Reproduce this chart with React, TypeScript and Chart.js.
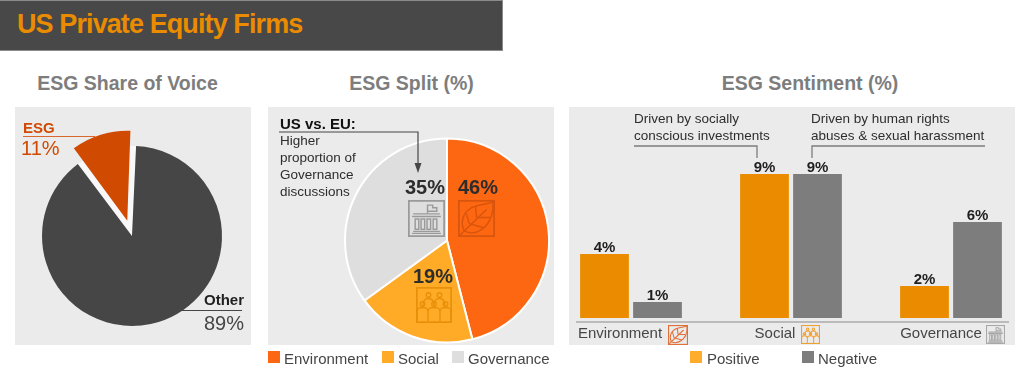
import React, { useEffect, useRef } from "react";
import { Chart, registerables } from "chart.js";

Chart.register(...registerables);

const FONT = '"Liberation Sans", Arial, sans-serif';
const shareLabels = ["ESG", "Other"];
const shareValues = [11, 89];
const splitLabels = ["Environment", "Social", "Governance"];
const splitValues = [46, 19, 35];
const sentimentCategories = ["Environment", "Social", "Governance"];
const positiveValues = [4, 9, 2];
const negativeValues = [1, 9, 6];
const categoryLabelShift = [-11, -16, -10];

const ORANGE_DARK = "#D04A02";
const CHARCOAL = "#464646";
const ENV = "#FE6711";
const SOC = "#FFAB27";
const GOV = "#DEDEDE";
const POS = "#EB8C00";
const NEG = "#7D7D7D";
const PANEL = "#EBEBEB";
const INK = "#2D2D2D";

function Txt(p: { x: number; y: number; size: number; bold?: boolean; color?: string; center?: boolean; spacing?: number; children: any }) {
  return (
    <div
      style={{
        position: "absolute",
        left: p.x,
        top: p.y,
        transform: p.center ? "translate(-50%,-50%)" : "translateY(-50%)",
        fontFamily: FONT,
        fontSize: p.size,
        fontWeight: p.bold ? 700 : 400,
        letterSpacing: p.spacing ?? 0,
        color: p.color || INK,
        lineHeight: 1,
        whiteSpace: "nowrap",
      }}
    >
      {p.children}
    </div>
  );
}

function Box(p: { x: number; y: number; w: number; h: number; c: string }) {
  return <div style={{ position: "absolute", left: p.x, top: p.y, width: p.w, height: p.h, background: p.c }} />;
}

function Icon(p: { kind: "leaf" | "people" | "building"; x: number; y: number; size: number; color: string; sw?: number }) {
  const sw = p.sw ?? 1.4;
  return (
    <svg
      width={p.size}
      height={p.size}
      viewBox="0 0 36 36"
      style={{ position: "absolute", left: p.x, top: p.y }}
      fill="none"
      stroke={p.color}
      strokeWidth={sw}
    >
      <rect x="0.8" y="0.8" width="34.4" height="34.4" strokeWidth={sw * 1.3} />
      {p.kind === "leaf" && (
        <g>
          <path d="M6 30 C1 19 7 9 17 6 C23 4 29 4 34 2 C35 11 32 22 24 28 C18 32 11 33 6 30 Z" />
          <path d="M1 35 L28 9" />
          <path d="M18 17 L17 6 M11 23 L8 13 M18 17 L31 17 M11 23 L25 27" />
        </g>
      )}
      {p.kind === "people" && (
        <g>
          <circle cx="12.5" cy="8" r="2.3" />
          <circle cx="23.5" cy="8" r="2.3" />
          <path d="M7 19 C7 13 9 11.5 12.5 11.5 C16 11.5 18 13 18 19 M18 19 C18 13 20 11.5 23.5 11.5 C27 11.5 29 13 29 19" />
          <circle cx="6.5" cy="17" r="2.3" />
          <circle cx="18" cy="17" r="2.3" />
          <circle cx="29.5" cy="17" r="2.3" />
          <path d="M1 34 L1 25 C1 21 3 20.5 6.5 20.5 C10 20.5 12 21 12 25 L12 34 M12 25 C12 21 14 20.5 18 20.5 C22 20.5 24 21 24 25 L24 34 M24 25 C24 21 26 20.5 29.5 20.5 C33 20.5 35 21 35 25 L35 34" />
        </g>
      )}
      {p.kind === "building" && (
        <g>
          <path d="M19 13 L19 5 L24 5 L24 7.5 L28 7.5 L28 11 L19 11" />
          <path d="M5 13.5 L31 13.5 M4 16 L32 16" />
          <rect x="7" y="18.5" width="3.5" height="10" />
          <rect x="12.7" y="18.5" width="3.5" height="10" />
          <rect x="18.5" y="18.5" width="3.5" height="10" />
          <rect x="24.5" y="18.5" width="3.5" height="10" />
          <path d="M5 30.5 L31 30.5 M4 32.5 L32 32.5" strokeWidth={sw} />
        </g>
      )}
    </svg>
  );
}

const pieBase = {
  responsive: false,
  animation: false as const,
  layout: { padding: 0 },
  plugins: { legend: { display: false }, tooltip: { enabled: false } },
};

const SHARE_RADIUS = 90;
const EXPLODE_SHIFT = 16;
// Chart.js moves an arc by offset / 4 and grows it by (offset / 4) * (1 - sin(circumference)).
const EXPLODE_OFFSET = 4 * EXPLODE_SHIFT;
const EXPLODE_GROWTH = EXPLODE_SHIFT * (1 - Math.sin((2 * Math.PI * shareValues[0]) / 100));

// Undo the growth of the exploded arc, and leave a pale wedge behind it
// that shows as the gap along the slice's two sides.
const explodeGapPlugin = {
  id: "explodeGap",
  afterDatasetsUpdate(chart: any) {
    chart.getDatasetMeta(0).data[0].outerRadius = SHARE_RADIUS - EXPLODE_GROWTH;
  },
  beforeDatasetsDraw(chart: any) {
    const arc = chart.getDatasetMeta(0).data[0];
    const { ctx } = chart;
    ctx.save();
    ctx.fillStyle = "#F8F8F8";
    ctx.beginPath();
    ctx.moveTo(arc.x, arc.y);
    ctx.arc(arc.x, arc.y, SHARE_RADIUS, arc.startAngle, arc.endAngle);
    ctx.closePath();
    ctx.fill();
    ctx.restore();
  },
};

const sentimentPlugin = {
  id: "sentimentText",
  afterDatasetsDraw(chart: any) {
    const { ctx } = chart;
    ctx.save();
    ctx.textAlign = "center";
    ctx.textBaseline = "alphabetic";
    ctx.font = `700 15px ${FONT}`;
    ctx.fillStyle = "#1F1F1F";
    chart.data.datasets.forEach((ds: any, di: number) => {
      chart.getDatasetMeta(di).data.forEach((bar: any, i: number) => {
        ctx.fillText(`${ds.data[i]}%`, bar.x, bar.y - 2);
      });
    });
    const xs = chart.scales.x;
    const axisY = chart.scales.y.getPixelForValue(0) + 4;
    ctx.strokeStyle = "#8C8C8C";
    ctx.lineWidth = 1.2;
    ctx.beginPath();
    ctx.moveTo(xs.left - 55, axisY);
    ctx.lineTo(xs.right + 58, axisY);
    ctx.stroke();
    ctx.font = `400 15px ${FONT}`;
    ctx.fillStyle = CHARCOAL;
    ctx.textBaseline = "middle";
    sentimentCategories.forEach((c, i) => {
      ctx.fillText(c, xs.getPixelForTick(i) + categoryLabelShift[i], axisY + 11.5);
    });
    ctx.restore();
  },
};

export default function App() {
  const shareRef = useRef<HTMLCanvasElement>(null);
  const splitRef = useRef<HTMLCanvasElement>(null);
  const sentRef = useRef<HTMLCanvasElement>(null);

  useEffect(() => {
    const a = new Chart(shareRef.current!, {
      type: "pie",
      data: {
        labels: shareLabels,
        datasets: [
          {
            data: shareValues,
            backgroundColor: [ORANGE_DARK, CHARCOAL],
            borderWidth: 0,
            offset: [EXPLODE_OFFSET, 0],
            clip: false,
          } as any,
        ],
      },
      options: { ...pieBase, rotation: -37, radius: SHARE_RADIUS } as any,
      plugins: [explodeGapPlugin],
    });
    const b = new Chart(splitRef.current!, {
      type: "pie",
      data: {
        labels: splitLabels,
        datasets: [
          {
            data: splitValues,
            backgroundColor: [ENV, SOC, GOV],
            borderColor: "#FFFFFF",
            borderWidth: 2,
            clip: false,
          } as any,
        ],
      },
      options: { ...pieBase, rotation: 0, radius: 102 } as any,
    });
    const c = new Chart(sentRef.current!, {
      type: "bar",
      data: {
        labels: sentimentCategories,
        datasets: [
          { label: "Positive", data: positiveValues, backgroundColor: POS, clip: false } as any,
          { label: "Negative", data: negativeValues, backgroundColor: NEG, clip: false } as any,
        ],
      },
      options: {
        responsive: false,
        animation: false,
        layout: { padding: { left: 62, right: 64, top: 19, bottom: 27 } },
        datasets: { bar: { categoryPercentage: 106 / 160, barPercentage: 0.92 } },
        scales: {
          x: { display: false, offset: false },
          y: { display: false, min: 0, max: 12 },
        },
        plugins: { legend: { display: false }, tooltip: { enabled: false } },
      } as any,
      plugins: [sentimentPlugin],
    });
    return () => {
      a.destroy();
      b.destroy();
      c.destroy();
    };
  }, []);

  return (
    <div style={{ position: "fixed", left: 0, top: 0, width: 1024, height: 377, overflow: "hidden", background: "#fff" }}>
      <div
        style={{
          position: "absolute",
          left: 0,
          top: 0,
          width: 503,
          height: 51,
          background: "#484848",
          boxSizing: "border-box",
          borderTop: "1px solid #8a8a8a",
          borderBottom: "1px solid #8a8a8a",
          borderRight: "1px solid #8a8a8a",
        }}
      />
      <Txt x={17} y={24} size={27} bold color={POS} spacing={-0.9}>US Private Equity Firms</Txt>

      <Txt x={127.5} y={84} size={19.5} bold color={NEG} center>ESG Share of Voice</Txt>
      <Txt x={411.5} y={84} size={19.5} bold color={NEG} center>ESG Split (%)</Txt>
      <Txt x={810} y={84} size={19.5} bold color={NEG} center>ESG Sentiment (%)</Txt>

      <Box x={15} y={107} w={236} h={238} c={PANEL} />
      <Box x={268} y={107} w={286} h={238} c={PANEL} />
      <Box x={569} y={107} w={446} h={238} c={PANEL} />

      <canvas ref={shareRef} width={234} height={258} style={{ position: "absolute", left: 15, top: 107, width: 234, height: 258 }} />
      <canvas ref={splitRef} width={214} height={221} style={{ position: "absolute", left: 340, top: 130, width: 214, height: 221 }} />
      <canvas ref={sentRef} width={446} height={238} style={{ position: "absolute", left: 569, top: 107, width: 446, height: 238 }} />

      <Txt x={23} y={127} size={15} bold color={ORANGE_DARK}>{shareLabels[0]}</Txt>
      <Box x={23} y={136} w={72} h={1} c="#D9682E" />
      <Txt x={21} y={148} size={20} color={ORANGE_DARK}>{shareValues[0]}%</Txt>
      <Txt x={204} y={299} size={15} bold color="#1F1F1F">{shareLabels[1]}</Txt>
      <Box x={181} y={310} w={61} h={1} c={CHARCOAL} />
      <Txt x={204} y={323} size={20} color={CHARCOAL}>{shareValues[1]}%</Txt>

      <Txt x={280} y={123} size={15} bold color="#111">US vs. EU:</Txt>
      <Txt x={280} y={141} size={13.5}>Higher</Txt>
      <Txt x={280} y={158} size={13.5}>proportion of</Txt>
      <Txt x={280} y={175} size={13.5}>Governance</Txt>
      <Txt x={280} y={192} size={13.5}>discussions</Txt>
      <svg width={1024} height={377} style={{ position: "absolute", left: 0, top: 0 }} fill="none">
        <path d="M279 132 L418 132 L418 165" stroke={CHARCOAL} strokeWidth={1.2} />
        <path d="M414.5 163 L421.5 163 L418 173 Z" fill={CHARCOAL} />
        <path d="M634 146 L757 146 L757 158" stroke="#7D7D7D" strokeWidth={1.3} />
        <path d="M985 146 L812 146 L812 158" stroke="#7D7D7D" strokeWidth={1.3} />
      </svg>

      <Txt x={478} y={187} size={20} bold center>{splitValues[0]}%</Txt>
      <Txt x={425} y={187} size={20} bold center>{splitValues[2]}%</Txt>
      <Txt x={433} y={276} size={20} bold center>{splitValues[1]}%</Txt>
      <Icon kind="leaf" x={458} y={200} size={37} color="#D9540C" />
      <Icon kind="building" x={408} y={200} size={37} color="#9A9A9A" />
      <Icon kind="people" x={416} y={287} size={36} color="#E8900A" />

      <Box x={268} y={351} w={12} h={12} c={ENV} />
      <Txt x={284} y={357.5} size={15} color={CHARCOAL}>{splitLabels[0]}</Txt>
      <Box x={382} y={351} w={12} h={12} c={SOC} />
      <Txt x={398} y={357.5} size={15} color={CHARCOAL}>{splitLabels[1]}</Txt>
      <Box x={452} y={351} w={12} h={12} c={GOV} />
      <Txt x={468} y={357.5} size={15} color={CHARCOAL}>{splitLabels[2]}</Txt>

      <Txt x={634} y={119} size={13.5}>Driven by socially</Txt>
      <Txt x={634} y={136} size={13.5}>conscious investments</Txt>
      <Txt x={811} y={119} size={13.5}>Driven by human rights</Txt>
      <Txt x={811} y={136} size={13.5}>abuses &amp; sexual harassment</Txt>

      <Icon kind="leaf" x={668} y={325} size={20} color="#E0703A" sw={1.9} />
      <Icon kind="people" x={801} y={325} size={19} color="#F0A030" sw={1.9} />
      <Icon kind="building" x={986} y={325} size={19} color="#A8A8A8" sw={1.9} />

      <Box x={690} y={351} w={12} h={12} c="#FFAB2B" />
      <Txt x={707} y={357.5} size={15} color={CHARCOAL}>Positive</Txt>
      <Box x={802} y={351} w={12} h={12} c={NEG} />
      <Txt x={818} y={357.5} size={15} color={CHARCOAL}>Negative</Txt>
    </div>
  );
}
